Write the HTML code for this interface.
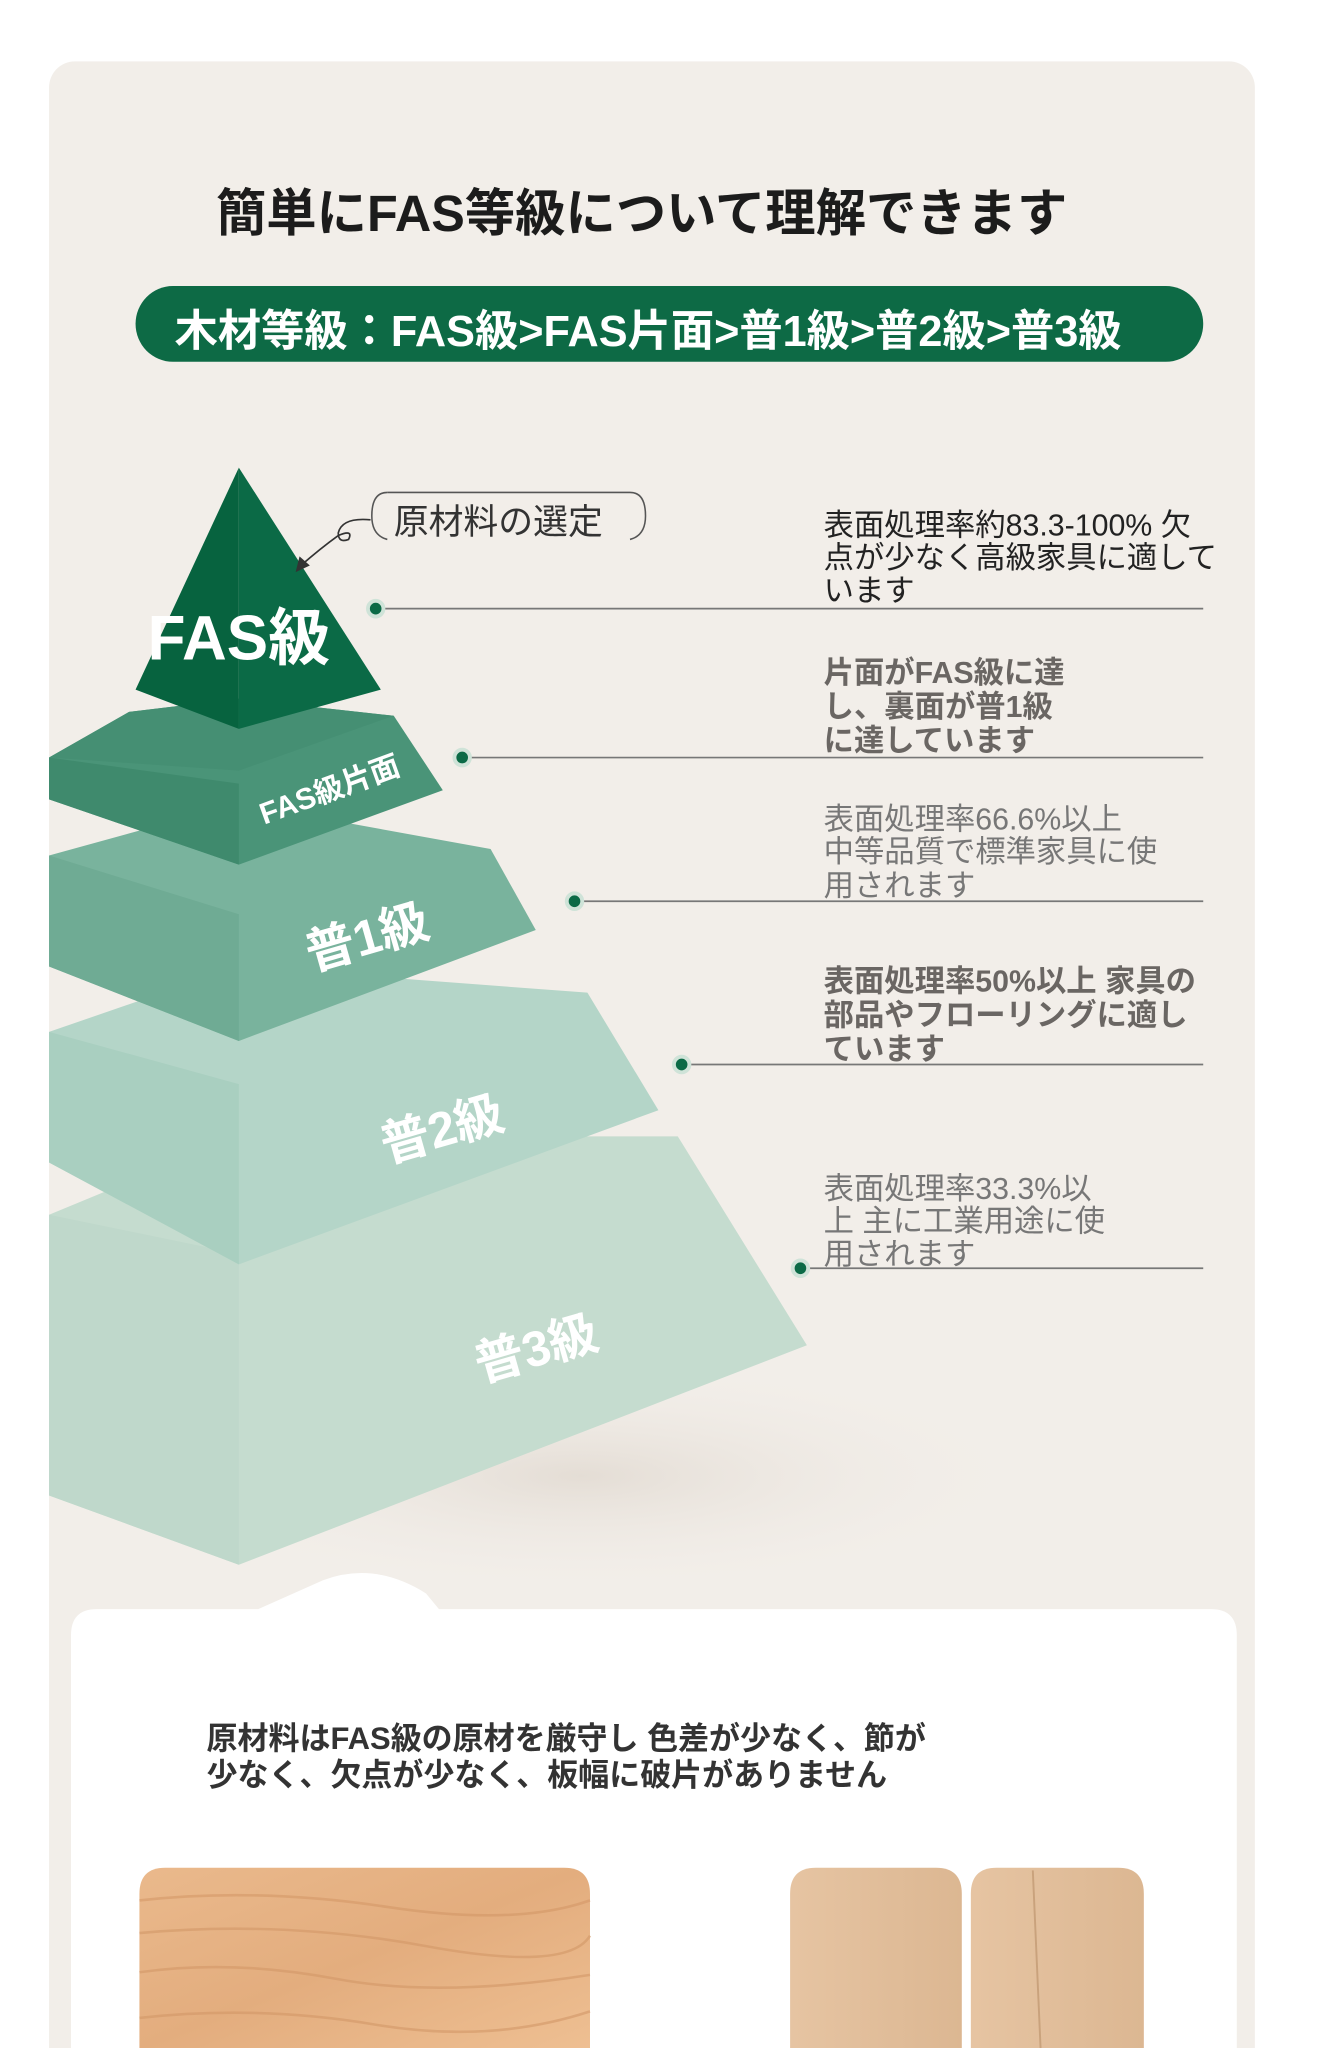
<!DOCTYPE html>
<html><head><meta charset="utf-8"><style>
html,body{margin:0;padding:0;background:#fff;}
svg{display:block;}
text{font-family:"Liberation Sans","Noto Sans CJK JP",sans-serif;}
</style></head><body>
<svg width="1322" height="2048" viewBox="0 0 1024 1568" preserveAspectRatio="none" xmlns="http://www.w3.org/2000/svg">
<defs>
<radialGradient id="sh" cx="0.5" cy="0.5" r="0.5">
<stop offset="0" stop-color="#e4ddd5"/><stop offset="1" stop-color="#f2eee9" stop-opacity="0"/>
</radialGradient>
<linearGradient id="w1" x1="0" y1="0" x2="1" y2="1">
<stop offset="0" stop-color="#eab98c"/><stop offset="0.5" stop-color="#e3ad7e"/><stop offset="1" stop-color="#eebf92"/>
</linearGradient>
<linearGradient id="w2" x1="0" y1="0" x2="1" y2="0">
<stop offset="0" stop-color="#e6c4a2"/><stop offset="1" stop-color="#dcb792"/>
</linearGradient>
</defs>
<rect x="38" y="47" width="934" height="1560" rx="20" fill="#f2eee9"/>
<ellipse cx="450" cy="1130" rx="360" ry="90" fill="url(#sh)"/>
<text x="497" y="177" text-anchor="middle" font-size="39" font-weight="bold" fill="#1c1c1c">簡単にFAS等級について理解できます</text>
<rect x="105" y="219" width="827" height="58" rx="29" fill="#0d6a45"/>
<text x="502" y="265" text-anchor="middle" font-size="33.5" font-weight="bold" fill="#ffffff">木材等級：FAS級&gt;FAS片面&gt;普1級&gt;普2級&gt;普3級</text>

<polygon points="38,930 185,870 525,870 625,1030 185,1198 38,1145" fill="#c5dccf"/>
<polygon points="38,930 185,960 185,1198 38,1145" fill="#bfd8cb"/>
<polygon points="38,790 185,740 455,760 510,850 185,968 38,890" fill="#b4d5c8"/>
<polygon points="38,790 185,830 185,968 38,890" fill="#a9cfc0"/>
<polygon points="38,655 185,615 380,650 415,712 185,797 38,740" fill="#79b39d"/>
<polygon points="38,655 185,700 185,797 38,740" fill="#6fab94"/>
<polygon points="38,580 100,545 185,535 305,548 343,605 185,662 38,612" fill="#4a9478"/>
<polygon points="38,580 185,600 185,662 38,612" fill="#3f8a6d"/>
<polygon points="100,545 185,535 305,548 185,590 38,580" fill="#458f73"/>
<polygon points="185,358 295,528 185,558" fill="#0b6a46"/>
<polygon points="185,358 105,528 185,558" fill="#07633f"/>

<text x="185" y="505" text-anchor="middle" font-size="48" font-weight="bold" fill="#ffffff">FAS級</text>
<text transform="translate(258,612) rotate(-20)" text-anchor="middle" font-size="23" font-weight="bold" fill="#ffffff">FAS級片面</text>
<text transform="translate(288,730) rotate(-16)" text-anchor="middle" font-size="38" font-weight="bold" fill="#ffffff">普1級</text>
<text transform="translate(346,877) rotate(-16)" text-anchor="middle" font-size="38" font-weight="bold" fill="#ffffff">普2級</text>
<text transform="translate(419,1045) rotate(-16)" text-anchor="middle" font-size="38" font-weight="bold" fill="#ffffff">普3級</text>

<path d="M300,377 H488 Q500,377 500,395 Q500,410 488,413" fill="none" stroke="#555" stroke-width="1.2"/>
<path d="M300,377 Q288,377 288,395 Q288,410 300,413" fill="none" stroke="#555" stroke-width="1.2"/>
<text x="305" y="409" font-size="27" fill="#333">原材料の選定</text>
<path d="M287,398 Q265,396 262,408 Q262,416 270,413 Q274,405 262,410 Q248,420 233,433" fill="none" stroke="#333" stroke-width="1.3"/>
<polygon points="229,438 232,426 240,433" fill="#333"/>

<g stroke="#777" stroke-width="1.3">
<line x1="291" y1="466" x2="932" y2="466"/>
<line x1="358" y1="580" x2="932" y2="580"/>
<line x1="445" y1="690" x2="932" y2="690"/>
<line x1="528" y1="815" x2="932" y2="815"/>
<line x1="620" y1="971" x2="932" y2="971"/>
</g>
<g fill="#0b6a46" stroke="#cfe3d8" stroke-width="3">
<circle cx="291" cy="466" r="6"/><circle cx="358" cy="580" r="6"/><circle cx="445" cy="690" r="6"/><circle cx="528" cy="815" r="6"/><circle cx="620" cy="971" r="6"/>
</g>

<g font-size="23.5">
<text x="638" y="410" fill="#222">表面処理率約83.3-100% 欠</text>
<text x="638" y="435" fill="#222">点が少なく高級家具に適して</text>
<text x="638" y="460" fill="#222">います</text>
<text x="638" y="523" fill="#6a6663" font-weight="bold">片面がFAS級に達</text>
<text x="638" y="549" fill="#6a6663" font-weight="bold">し、裏面が普1級</text>
<text x="638" y="575" fill="#6a6663" font-weight="bold">に達しています</text>
<text x="638" y="635" fill="#777">表面処理率66.6%以上</text>
<text x="638" y="660" fill="#777">中等品質で標準家具に使</text>
<text x="638" y="686" fill="#777">用されます</text>
<text x="638" y="759" fill="#6a6663" font-weight="bold">表面処理率50%以上 家具の</text>
<text x="638" y="785" fill="#6a6663" font-weight="bold">部品やフローリングに適し</text>
<text x="638" y="811" fill="#6a6663" font-weight="bold">ています</text>
<text x="638" y="918" fill="#777">表面処理率33.3%以</text>
<text x="638" y="943" fill="#777">上 主に工業用途に使</text>
<text x="638" y="968" fill="#777">用されます</text>
</g>

<path d="M55,1252 Q55,1232 75,1232 H200 L250,1210 Q290,1195 330,1220 L340,1232 H938 Q958,1232 958,1252 V1568 H55 Z" fill="#ffffff"/>
<text x="160" y="1339" font-size="24" font-weight="bold" fill="#333">原材料はFAS級の原材を厳守し 色差が少なく、節が</text>
<text x="160" y="1367" font-size="24" font-weight="bold" fill="#333">少なく、欠点が少なく、板幅に破片がありません</text>

<path d="M108,1568 V1450 Q108,1430 128,1430 H437 Q457,1430 457,1450 V1568 Z" fill="url(#w1)"/>
<g fill="none" stroke="#d39868" stroke-width="2" opacity="0.6">
<path d="M108,1455 Q200,1445 300,1460 T457,1455"/>
<path d="M108,1480 Q220,1470 330,1490 T457,1482"/>
<path d="M108,1510 Q180,1500 260,1515 Q340,1530 457,1512"/>
<path d="M108,1545 Q200,1535 290,1550 T457,1540"/>
</g>
<path d="M612,1568 V1450 Q612,1430 632,1430 H725 Q745,1430 745,1450 V1568 Z" fill="url(#w2)"/>
<path d="M752,1568 V1450 Q752,1430 772,1430 H866 Q886,1430 886,1450 V1568 Z" fill="url(#w2)"/>
<line x1="800" y1="1432" x2="806" y2="1568" stroke="#c9a27c" stroke-width="1.5"/>
</svg>
</body></html>
